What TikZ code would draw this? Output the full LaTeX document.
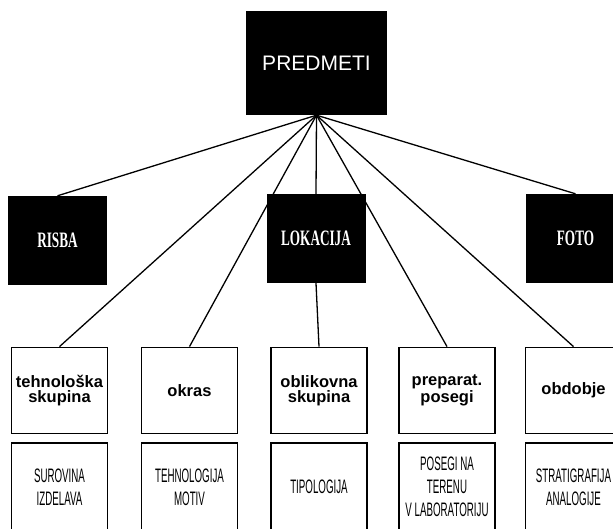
\documentclass[tikz,border=0pt]{standalone}
\usepackage{fontspec}
\setmainfont{Liberation Sans}
\newfontfamily\headfont[FakeStretch=0.6]{Liberation Serif}
\newfontfamily\detailfont[FakeStretch=0.5]{Liberation Sans}
\usetikzlibrary{positioning, backgrounds}

\begin{document}
\begin{tikzpicture}[
  x=1pt, y=-1pt,
  head/.style = {fill=black, text=white, minimum width=99pt, minimum height=89pt, inner sep=0pt,
    font=\headfont\bfseries\fontsize{22}{22}\selectfont},
  topic/.style = {draw, line width=1.8pt, minimum width=96pt, minimum height=86pt, inner sep=0pt,
    align=center, font=\bfseries\fontsize{16.5}{15}\selectfont},
  detail/.style = {draw, line width=1.8pt, minimum width=96pt, minimum height=88pt, inner sep=0pt,
    align=center, font=\detailfont\fontsize{19.5}{23}\selectfont},
  link/.style = {line width=1.3pt}
]
\clip (0,0) rectangle (613,529);

% Top block
\node[head, minimum width=141pt, minimum height=104pt,
  font=\fontsize{21}{21}\selectfont] (pred) at (316.5,63) {PREDMETI};

% Black blocks
\node[head] (risba) at (57.5,240.5) {RISBA};
\node[head] (lok) at (316,238.5) {LOKACIJA};
\node[head] (foto) at (575.5,238.5) {FOTO};

% Topic boxes
\node[topic] (tehn) at (59.5,390.5) {tehnološka\\skupina};
\node[topic] (okras) at (189.5,390.5) {okras};
\node[topic] (oblik) at (319,390.5) {oblikovna\\skupina};
\node[topic] (prep) at (447,390.5) {preparat.\\posegi};
\node[topic] (obd) at (573.5,390.5) {obdobje};

% Detail boxes
\node[detail] (surov) at (59.5,487) {SUROVINA\\IZDELAVA};
\node[detail] (tehmot) at (189.5,487) {TEHNOLOGIJA\\MOTIV};
\node[detail] (tipol) at (319,487) {TIPOLOGIJA};
\node[detail] (poseg) at (447,487) {POSEGI NA\\TERENU\\V LABORATORIJU};
\node[detail] (strat) at (573.5,487) {STRATIGRAFIJA\\ANALOGIJE};

% Links
\begin{scope}[on background layer]
  \foreach \n in {risba, tehn, okras, lok, prep, obd, foto}
    \draw[link] (pred.south) -- (\n.north);
  \draw[link] (lok.south) -- (oblik.north);
\end{scope}

\end{tikzpicture}
\end{document}
